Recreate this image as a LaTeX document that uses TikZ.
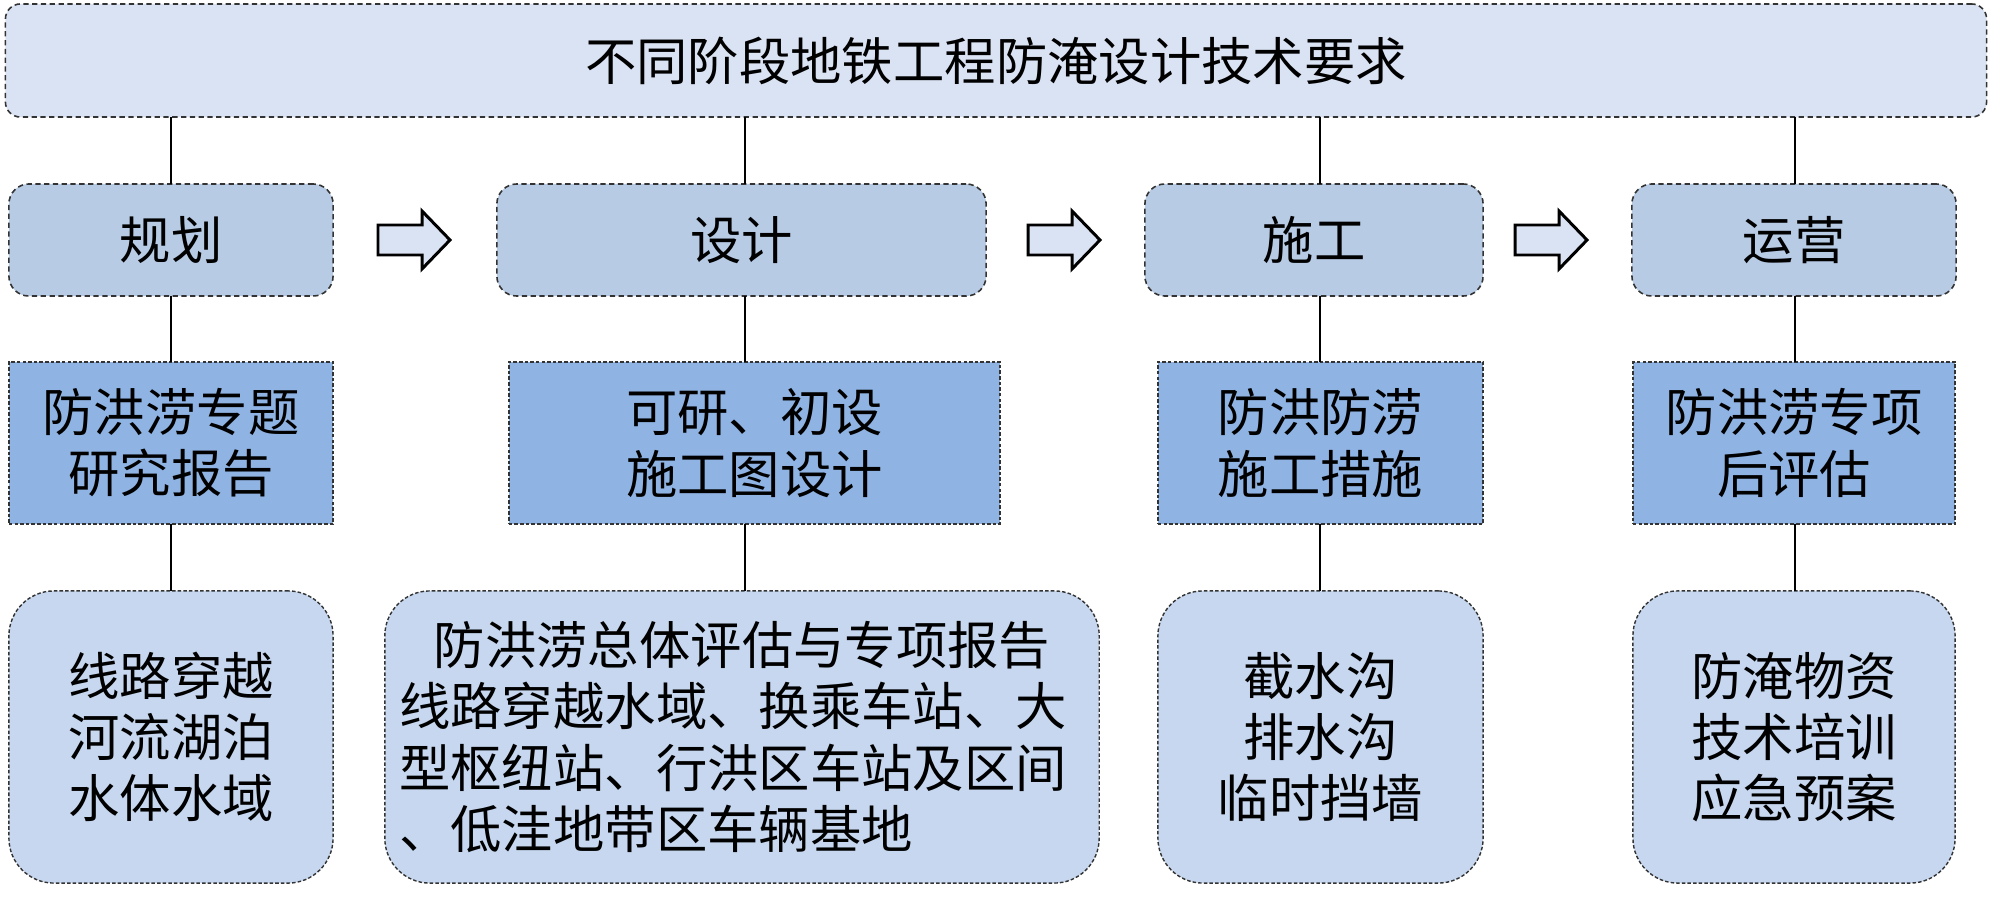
\documentclass[tikz,border=0pt]{standalone}
\usepackage{fontspec}
\setmainfont{Noto Sans CJK SC}
\begin{document}
\begin{tikzpicture}[x=0.01cm,y=-0.01cm,
  every node/.style={inner sep=0pt,outer sep=0pt,font=\fontsize{14.6pt}{17.4pt}\selectfont,text=black},
  topbox/.style={draw=black!80,line width=0.45pt,dash pattern=on 1.5pt off 1pt,fill=top,rounded corners=0.15cm},
  stagebox/.style={draw=black!80,line width=0.45pt,dash pattern=on 1.5pt off 1pt,fill=stage,rounded corners=0.2cm},
  docbox/.style={draw=black!80,line width=0.4pt,dash pattern=on 1pt off 0.6pt,fill=doc,align=center},
  itembox/.style={draw=black!80,line width=0.4pt,dash pattern=on 1pt off 0.6pt,fill=item,rounded corners=0.45cm,align=center},
  conn/.style={draw=black,line width=0.6pt},
  blockarrow/.style={draw=black,line width=0.85pt,fill=top,line join=miter}
]
\definecolor{top}{HTML}{DAE3F3}
\definecolor{stage}{HTML}{B7CBE5}
\definecolor{doc}{HTML}{8FB3E3}
\definecolor{item}{HTML}{C6D7EF}
\useasboundingbox (0,0) rectangle (2000,900);

% top box
\node[topbox,minimum width=19.80cm,minimum height=1.13cm] (top) at (996,60.5) {不同阶段地铁工程防淹设计技术要求};

% column coordinates
\coordinate (c1) at (171,0);
\coordinate (c2) at (745,0);
\coordinate (c3) at (1320,0);
\coordinate (c4) at (1795,0);

% stage row
\node[stagebox,minimum width=3.24cm,minimum height=1.12cm] (p1) at (171,240) {规划};
\node[stagebox,minimum width=4.89cm,minimum height=1.12cm] (p2) at (741.5,240) {设计};
\node[stagebox,minimum width=3.38cm,minimum height=1.12cm] (p3) at (1314,240) {施工};
\node[stagebox,minimum width=3.24cm,minimum height=1.12cm] (p4) at (1794,240) {运营};

% document row
\node[docbox,minimum width=3.24cm,minimum height=1.62cm] (d1) at (171,443) {防洪涝专题\\研究报告};
\node[docbox,minimum width=4.91cm,minimum height=1.62cm] (d2) at (754.5,443) {可研、初设\\施工图设计};
\node[docbox,minimum width=3.25cm,minimum height=1.62cm] (d3) at (1320.5,443) {防洪防涝\\施工措施};
\node[docbox,minimum width=3.22cm,minimum height=1.62cm] (d4) at (1794,443) {防洪涝专项\\后评估};

% item row
\node[itembox,minimum width=3.24cm,minimum height=2.92cm] (i1) at (171,737) {线路穿越\\河流湖泊\\水体水域};
\node[itembox,minimum width=7.14cm,minimum height=2.92cm,text width=6.85cm,align=left] (i2) at (742,737)
  {\makebox[\linewidth][c]{防洪涝总体评估与专项报告}\\线路穿越水域、换乘车站、大\\型枢纽站、行洪区车站及区间\\、低洼地带区车辆基地};
\node[itembox,minimum width=3.25cm,minimum height=2.92cm] (i3) at (1320.5,737) {截水沟\\排水沟\\临时挡墙};
\node[itembox,minimum width=3.22cm,minimum height=2.92cm] (i4) at (1794,737) {防淹物资\\技术培训\\应急预案};

% connectors
\foreach \k in {1,2,3,4}{
  \draw[conn] (top.south -| c\k) -- (p\k.north -| c\k);
  \draw[conn] (p\k.south -| c\k) -- (d\k.north -| c\k);
  \draw[conn] (d\k.south -| c\k) -- (i\k.north -| c\k);
}

% block arrows between stages
\foreach \xa in {378,1028,1515}{
  \draw[blockarrow] (\xa,225) -- (\xa+44,225) -- (\xa+44,211) -- (\xa+72,240) -- (\xa+44,269) -- (\xa+44,255) -- (\xa,255) -- cycle;
}
\end{tikzpicture}
\end{document}
